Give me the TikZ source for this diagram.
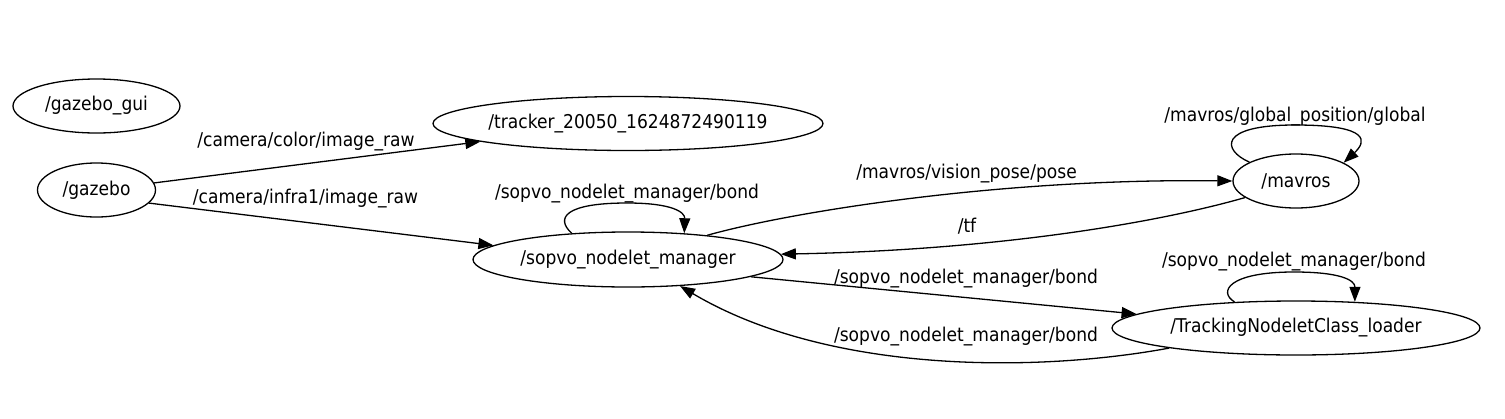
\documentclass[tikz,border=0pt]{standalone}
\usepackage{fontspec}
\setmainfont{DejaVu Sans}[FakeStretch=0.9]
\usetikzlibrary{shapes.geometric,arrows.meta}
\newcommand{\nlab}[1]{\makebox[0pt]{\raisebox{-2pt}{#1}}}
\begin{document}
\begin{tikzpicture}[x=1pt,y=-1pt,
  font=\fontsize{19}{23}\selectfont,
  rosnode/.style={ellipse,draw,line width=1.3pt,inner sep=0pt},
  lbl/.style={inner sep=0pt,anchor=center},
  edge/.style={line width=1.3pt,-{Triangle[length=15pt,width=11pt]}}]
\useasboundingbox (0,0) rectangle (1505,418);
% nodes
\node[rosnode,minimum width=167pt,minimum height=54pt] (gui) at (96.5,106) {\nlab{/gazebo\_gui}};
\node[rosnode,minimum width=118pt,minimum height=54pt] (gz) at (96.5,190) {\nlab{/gazebo}};
\node[rosnode,minimum width=390pt,minimum height=54pt] (tr) at (628,123.5) {\nlab{/tracker\_20050\_1624872490119}};
\node[rosnode,minimum width=310pt,minimum height=55pt] (sm) at (628,259.5) {\nlab{/sopvo\_nodelet\_manager}};
\node[rosnode,minimum width=126pt,minimum height=54pt] (mv) at (1296,181) {\nlab{/mavros}};
\node[rosnode,minimum width=368pt,minimum height=54pt] (tl) at (1296,328) {\nlab{/TrackingNodeletClass\_loader}};
% labels
\node[lbl] (l1) at (306,142) {/camera/color/image\_raw};
\node[lbl] (l2) at (305.5,199) {/camera/infra1/image\_raw};
\node[lbl] (l3) at (627,194) {/sopvo\_nodelet\_manager/bond};
\node[lbl] (l4) at (966.5,174) {/mavros/vision\_pose/pose};
\node[lbl] (l5) at (967,226) {/tf};
\node[lbl] (l6) at (966,279) {/sopvo\_nodelet\_manager/bond};
\node[lbl] (l7) at (966,337) {/sopvo\_nodelet\_manager/bond};
\node[lbl] (l8) at (1295,117) {/mavros/global\_position/global};
\node[lbl] (l9) at (1294,262) {/sopvo\_nodelet\_manager/bond};
% edges
\draw[edge] (gz.7) -- (tr.187);
\draw[edge] (gz.-14) -- (sm.174);
\draw[edge] (sm.155) .. controls (555,218) and (565,203) .. (627,203)
  .. controls (672,203) and (685,212) .. (sm.25);
\draw[edge] (sm.17) .. controls (790,212) and (1000,178) .. (mv.180);
\draw[edge] (mv.198) .. controls (1160,222) and (1000,250) .. (sm.2);
\draw[edge] (sm.-8) -- (tl.175.5);
\draw[edge] (tl.189) .. controls (1040,372) and (830,375) .. (sm.-27.5);
\draw[edge] (mv.158) .. controls (1222,150) and (1218,125) .. (1295,125)
  .. controls (1372,125) and (1366,142) .. (mv.21);
\draw[edge] (tl.157) .. controls (1218,292) and (1228,272) .. (1294,272)
  .. controls (1340,272) and (1355,280) .. (tl.24);
\end{tikzpicture}
\end{document}
